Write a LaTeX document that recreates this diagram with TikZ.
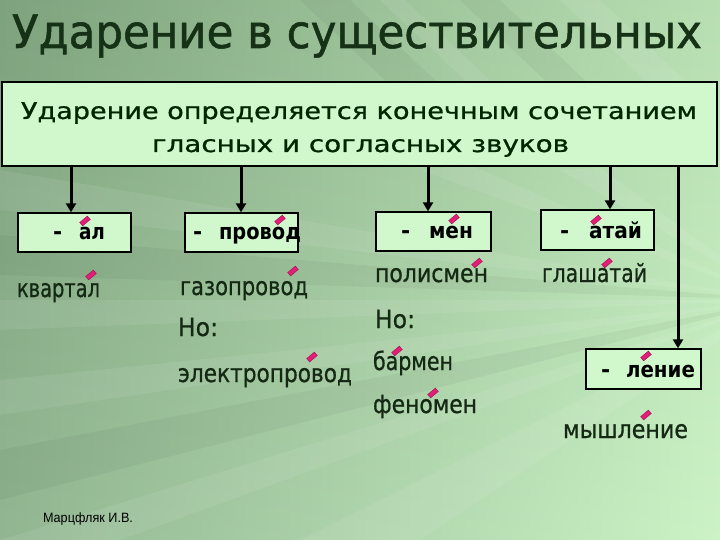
\documentclass[tikz,border=0pt]{standalone}
\usepackage{fontspec}
\setmainfont{DejaVu Sans}
\newfontfamily\heavyfont[FakeBold=0.8]{DejaVu Sans}
\newfontfamily\titlefont[FakeBold=1.2]{DejaVu Sans}
\newfontfamily\sigfont{Liberation Sans}
\usepackage{graphicx}
\usetikzlibrary{arrows.meta}
\definecolor{bgdark}{RGB}{136,176,136}
\definecolor{bglight}{RGB}{200,242,194}
\definecolor{boxgreen}{RGB}{208,248,204}
\definecolor{titlegreen}{RGB}{22,50,22}
\definecolor{wordgreen}{RGB}{20,40,20}
\definecolor{accentpink}{RGB}{228,30,120}
\definecolor{accentdark}{RGB}{150,20,80}
\newcommand{\fw}[2]{\resizebox{#1}{\height}{#2}}
\tikzset{
  txt/.style={anchor=base west, inner sep=0pt, outer sep=0pt},
  word/.style={txt, text=wordgreen, font=\heavyfont\fontsize{25}{25}\selectfont},
  boxlab/.style={txt, text=black, font=\fontsize{22}{22}\selectfont\bfseries},
  smallbox/.style={draw=black, line width=1.3pt, fill=boxgreen, minimum width=113pt, minimum height=39pt, inner sep=0pt},
  arr/.style={line width=3pt, -{Triangle[width=10pt,length=9pt]}},
  accent/.style={fill=accentpink, draw=accentdark, line width=0.4pt, minimum width=10pt, minimum height=4.5pt, inner sep=0pt, rotate=40},
  lightray/.style={fill=white, fill opacity=0.08},
  darkray/.style={fill=black, fill opacity=0.04},
}
\begin{document}
\begin{tikzpicture}[x=1pt,y=-1pt]
\useasboundingbox (0,0) rectangle (720,540);
% background
\shade[left color=bgdark, right color=bglight] (0,0) rectangle (720,540);
\shade[top color=black, bottom color=white, fill opacity=0.08] (0,0) rectangle (720,540);
% rays from the right
\fill[lightray] (780,300) -- (0,170) -- (0,210) -- cycle;
\fill[darkray] (780,300) -- (0,235) -- (0,275) -- cycle;
\fill[lightray] (780,300) -- (0,300) -- (0,330) -- cycle;
\fill[lightray] (780,300) -- (0,380) -- (0,415) -- cycle;
\fill[darkray] (780,300) -- (0,450) -- (0,500) -- cycle;
\fill[lightray] (780,300) -- (0,540) -- (120,540) -- cycle;
\fill[lightray] (780,300) -- (300,540) -- (420,540) -- cycle;
\fill[lightray] (780,300) -- (420,170) -- (470,165) -- cycle;
\fill[lightray] (780,300) -- (560,170) -- (600,168) -- cycle;
% diagonal bands at the top
\fill[darkray] (300,0) -- (350,0) -- (440,85) -- (390,85) -- cycle;
\fill[lightray] (380,0) -- (405,0) -- (495,85) -- (470,85) -- cycle;
\fill[lightray] (560,0) -- (600,0) -- (690,85) -- (650,85) -- cycle;
\fill[darkray] (460,0) -- (500,0) -- (590,85) -- (550,85) -- cycle;

% title
\node[txt, text=titlegreen, font=\titlefont\fontsize{46}{46}\selectfont] (title) at (12,48) {\fw{690pt}{Ударение в существительных}};

% main box
\node[draw=black, line width=2.5pt, fill=boxgreen, minimum width=715pt, minimum height=84pt, inner sep=0pt] (main) at (359.5,124) {};
\node[anchor=base, inner sep=0pt, text=black!85!green, font=\heavyfont\fontsize{23}{23}\selectfont] (l1) at (359,119) {\fw{676pt}{Ударение определяется конечным сочетанием}};
\node[anchor=base, inner sep=0pt, text=black!85!green, font=\heavyfont\fontsize{23}{23}\selectfont] (l2) at (360.5,152) {\fw{417pt}{гласных и согласных звуков}};

% small boxes
\node[smallbox] (b1) at (74.5,232.5) {};
\node[smallbox] (b2) at (241.5,232.5) {};
\node[smallbox, minimum width=115pt] (b3) at (433.5,231.5) {};
\node[smallbox, minimum height=40pt] (b4) at (597.5,230) {};
\node[smallbox, minimum width=115pt, minimum height=40pt] (b5) at (643.5,369) {};

% arrows
\coordinate (a1) at (71,0);
\coordinate (a2) at (241,0);
\coordinate (a3) at (428,0);
\coordinate (a4) at (610,0);
\coordinate (a5) at (678,0);
\draw[arr] (main.south -| a1) -- (b1.north -| a1);
\draw[arr] (main.south -| a2) -- (b2.north -| a2);
\draw[arr] (main.south -| a3) -- (b3.north -| a3);
\draw[arr] (main.south -| a4) -- (b4.north -| a4);
\draw[arr] (main.south -| a5) -- (b5.north -| a5);

% box labels
\node[boxlab] (d1) at (53,240) {-};
\node[boxlab] (t1) at (79,240) {\fw{26pt}{ал}};
\node[boxlab] (d2) at (193,240) {-};
\node[boxlab] (t2) at (219,240) {\fw{82pt}{провод}};
\node[boxlab] (d3) at (401,239) {-};
\node[boxlab] (t3) at (429,239) {\fw{44pt}{мен}};
\node[boxlab] (d4) at (560,238) {-};
\node[boxlab] (t4) at (589,238) {\fw{53pt}{атай}};
\node[boxlab] (d5) at (601,377) {-};
\node[boxlab] (t5) at (626,377) {\fw{69pt}{ление}};

% words
\node[word] (w1) at (17,297) {\fw{83pt}{квартал}};
\node[word] (w2) at (180,295) {\fw{128pt}{газопровод}};
\node[word] (w3) at (178,336) {\fw{40pt}{Но:}};
\node[word] (w4) at (178,382) {\fw{174pt}{электропровод}};
\node[word] (w5) at (375,282) {\fw{113pt}{полисмен}};
\node[word] (w6) at (375,328) {\fw{40pt}{Но:}};
\node[word] (w7) at (373,370) {\fw{80pt}{бармен}};
\node[word] (w8) at (373,413) {\fw{104pt}{феномен}};
\node[word] (w9) at (542,282) {\fw{105pt}{глашатай}};
\node[word] (w10) at (563,438) {\fw{125pt}{мышление}};

% stress marks
\node[accent] (s1) at (85,221) {};
\node[accent] (s2) at (280,220) {};
\node[accent] (s3) at (91,275) {};
\node[accent] (s4) at (293,271) {};
\node[accent] (s5) at (454,219) {};
\node[accent] (s6) at (596,220) {};
\node[accent] (s7) at (477,263) {};
\node[accent] (s8) at (607,263) {};
\node[accent] (s9) at (312,357) {};
\node[accent] (s10) at (397,351) {};
\node[accent] (s11) at (433,393) {};
\node[accent] (s12) at (646,356) {};
\node[accent] (s13) at (646,415) {};

% signature
\node[txt, font=\sigfont\fontsize{13.5}{14}\selectfont] (sig) at (43,522) {\fw{90pt}{Марцфляк И.В.}};
\end{tikzpicture}
\end{document}
